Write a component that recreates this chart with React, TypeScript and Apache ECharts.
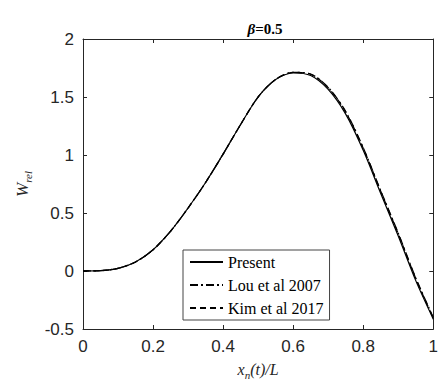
import React, { useEffect, useRef } from "react";
import * as echarts from "echarts";

const xs = [0, 0.05, 0.1, 0.15, 0.2, 0.25, 0.3, 0.35, 0.4, 0.45, 0.5, 0.55, 0.6, 0.65, 0.7, 0.75, 0.8, 0.85, 0.9, 0.95, 1.0];
const present = [0, 0.003, 0.023, 0.078, 0.183, 0.343, 0.543, 0.763, 1.008, 1.263, 1.5, 1.65, 1.707, 1.685, 1.565, 1.352, 1.04, 0.668, 0.302, -0.083, -0.415];
const lou = [0, 0.003, 0.023, 0.078, 0.183, 0.343, 0.543, 0.763, 1.008, 1.263, 1.5, 1.652, 1.713, 1.698, 1.583, 1.375, 1.063, 0.692, 0.326, -0.06, -0.4];
const kim = [0, 0.003, 0.023, 0.078, 0.183, 0.343, 0.543, 0.763, 1.008, 1.263, 1.5, 1.652, 1.712, 1.696, 1.58, 1.37, 1.058, 0.687, 0.321, -0.065, -0.405];
const seriesNames = ["Present", "Lou et al 2007", "Kim et al 2017"];

const axisColor = "#262626";
const tickFont = "'Liberation Sans', Arial, sans-serif";
const serif = "'Liberation Serif', 'Times New Roman', serif";

export default function App() {
  const ref = useRef<HTMLDivElement>(null);
  useEffect(() => {
    document.body.style.margin = "0";
    const chart = echarts.init(ref.current!, null, { renderer: "svg" });
    const mk = (vals: number[]) => xs.map((x, i) => [x, vals[i]]);
    const lineCommon = { type: "line", symbol: "none", showSymbol: false, smooth: 0.3, xAxisIndex: 0, yAxisIndex: 0 };
    const frameAxis = {
      axisLine: { show: true, onZero: false, lineStyle: { color: axisColor, width: 1 } },
      axisTick: { show: true, inside: true, length: 4, lineStyle: { color: axisColor } },
      splitLine: { show: false },
    };
    chart.setOption({
      animation: false,
      backgroundColor: "#fff",
      title: {
        text: "{i|β}{b|=0.5}",
        left: 260,
        textAlign: "center",
        top: 16,
        textStyle: {
          rich: {
            i: { fontFamily: serif, fontStyle: "italic", fontSize: 15, color: "#000" },
            b: { fontFamily: serif, fontWeight: "bold", fontSize: 15, color: "#000" },
          },
        },
      },
      grid: { left: 83, right: 4, top: 39, bottom: 53 },
      legend: {
        orient: "vertical",
        left: 183,
        top: 250,
        data: seriesNames.map((n) => ({ name: n, itemStyle: { opacity: 0 } })),
        backgroundColor: "#fff",
        borderColor: "#444",
        borderWidth: 1,
        borderRadius: 0,
        padding: [4, 6, 4, 6],
        itemWidth: 33,
        itemHeight: 14,
        itemGap: 7,
        itemStyle: { opacity: 0 },
        textStyle: { fontFamily: serif, fontSize: 16, color: "#000" },
      },
      xAxis: [
        {
          type: "value",
          min: 0,
          max: 1,
          interval: 0.2,
          position: "bottom",
          name: "{i|x}{s|n}{i|(t)/L}",
          nameLocation: "middle",
          nameGap: 30,
          nameTextStyle: {
            rich: {
              i: { fontFamily: serif, fontStyle: "italic", fontSize: 16, color: axisColor },
              s: { fontFamily: serif, fontStyle: "italic", fontSize: 11, color: axisColor, padding: [10, 0, 0, 0] },
            },
          },
          ...frameAxis,
          axisLabel: { margin: 9, fontFamily: tickFont, fontSize: 17, color: axisColor },
        },
        {
          type: "value",
          min: 0,
          max: 1,
          interval: 0.2,
          position: "top",
          ...frameAxis,
          axisLabel: { show: false },
        },
      ],
      yAxis: [
        {
          type: "value",
          min: -0.5,
          max: 2,
          interval: 0.5,
          position: "left",
          name: "{w|W}{s|rel}",
          nameLocation: "middle",
          nameGap: 50,
          nameTextStyle: {
            rich: {
              w: { fontFamily: serif, fontStyle: "italic", fontSize: 17, color: axisColor },
              s: { fontFamily: serif, fontStyle: "italic", fontSize: 11, color: axisColor, padding: [10, 0, 0, 0] },
            },
          },
          ...frameAxis,
          axisLabel: { margin: 9, fontFamily: tickFont, fontSize: 17, color: axisColor },
        },
        {
          type: "value",
          min: -0.5,
          max: 2,
          interval: 0.5,
          position: "right",
          ...frameAxis,
          axisLabel: { show: false },
        },
      ],
      series: [
        { ...lineCommon, name: seriesNames[0], data: mk(present), lineStyle: { color: "#000", width: 1.2, type: "solid" }, itemStyle: { color: "#000" }, z: 3 },
        { ...lineCommon, name: seriesNames[1], data: mk(lou), lineStyle: { color: "#000", width: 1.3, type: [8, 3, 2, 3] }, itemStyle: { color: "#000" }, z: 4 },
        { ...lineCommon, name: seriesNames[2], data: mk(kim), lineStyle: { color: "#000", width: 1.3, type: [6, 4] }, itemStyle: { color: "#000" }, z: 5 },
      ],
    });
    return () => chart.dispose();
  }, []);
  return <div ref={ref} style={{ width: 441, height: 385, position: "fixed", left: 0, top: 0 }} />;
}
